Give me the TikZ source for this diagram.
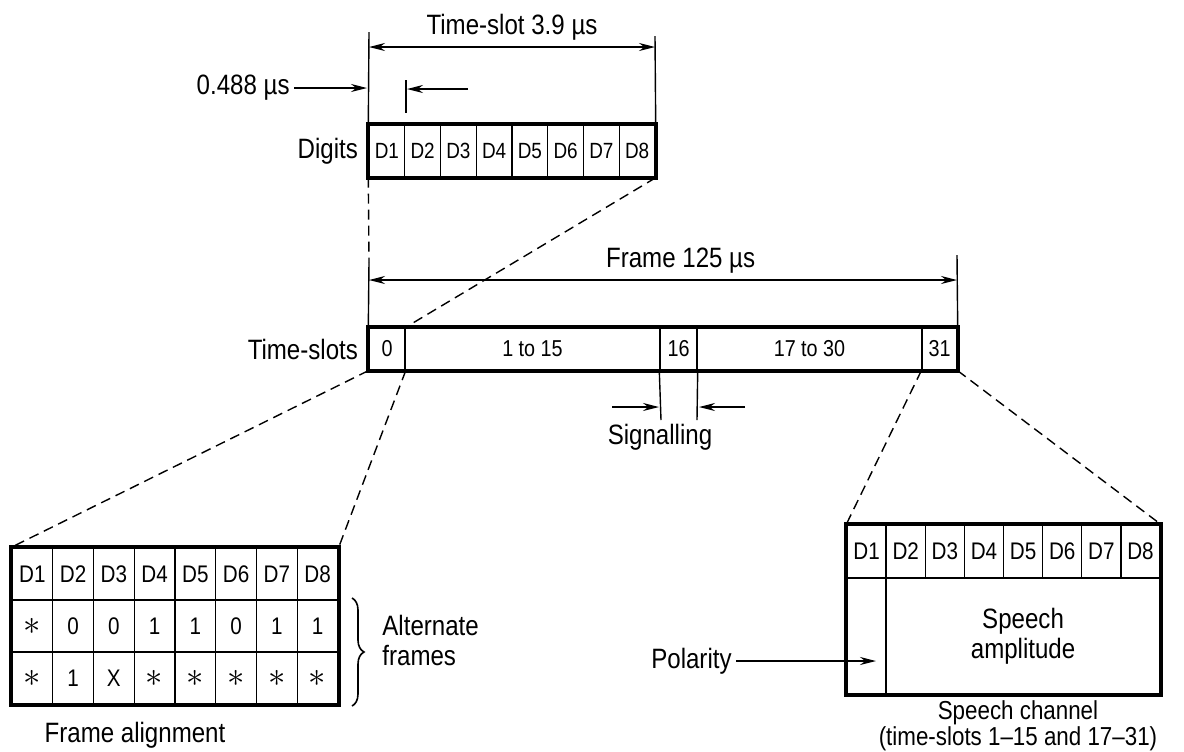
\documentclass[tikz,border=0pt]{standalone}
\usepackage{fontspec}
\setmainfont{Liberation Sans}[FakeStretch=0.86]
\usetikzlibrary{arrows.meta, positioning, decorations.pathreplacing}
\newcommand{\fstar}{{\fontsize{17}{17}\selectfont$\ast$}}

\begin{document}
\begin{tikzpicture}[
  x=0.5pt, y=-0.5pt,
  digit/.style={rectangle, draw=black, line width=0.7pt, inner sep=0pt, minimum width=17.875pt, minimum height=26pt, font=\fontsize{11}{13}\selectfont},
  slot/.style={rectangle, draw=black, line width=0.7pt, inner sep=0pt, minimum width=#1, minimum height=21pt, font=\fontsize{11.5}{13}\selectfont},
  fcell/.style={digit, minimum width=20.375pt, font=\fontsize{12}{14}\selectfont},
  scell/.style={digit, minimum width=19.5625pt, minimum height=26.5pt, font=\fontsize{12}{14}\selectfont},
  body/.style={rectangle, draw=black, line width=0.7pt, inner sep=0pt, minimum width=#1, minimum height=58pt, align=center, font=\fontsize{14}{15}\selectfont},
  outline/.style={line width=2pt},
  lbl/.style={font=\fontsize{14}{15}\selectfont, inner sep=2pt},
  dim/.style={line width=0.7pt},
  arr/.style={-{Stealth[length=8pt, width=4pt]}, line width=0.7pt},
  darr/.style={{Stealth[length=8pt, width=4pt]}-{Stealth[length=8pt, width=4pt]}, line width=0.7pt},
  zoomline/.style={dash pattern=on 5pt off 3pt, line width=0.7pt},
  brace/.style={decorate, decoration={brace, amplitude=6pt}, line width=0.8pt}
]
\useasboundingbox (0,0) rectangle (1184,751);

% Digits of one time-slot
\foreach \i in {1,...,8}
  \node[digit] (t\i) at ({369+35.75*(\i-0.5)},151) {D\i};
\draw[outline] (t1.north west) rectangle (t8.south east);
\node[lbl, left=3pt of t1] (digits) {Digits};

% Time-slot width
\coordinate (tsL) at (369,32);
\coordinate (tsR) at (655,36);
\coordinate (tsa) at (369,47);
\coordinate (tsb) at (655,47);
\draw[dim] (t1.north west) -- (tsL);
\draw[dim] (t8.north east) -- (tsR);
\draw[darr] (tsa) -- node[lbl, above=1pt] (tslbl) {Time-slot 3.9 µs} (tsb);

% Digit width
\node[lbl, anchor=east] (bitlbl) at (294,88) {0.488 µs};
\coordinate (bitL) at (367,88);
\coordinate (tkT) at (406,80);
\coordinate (tkB) at (406,113);
\coordinate (bitR) at (468,89);
\coordinate (bitE) at (407,89);
\draw[arr] (bitlbl.east) -- (bitL);
\draw[dim] (tkT) -- (tkB);
\draw[arr] (bitR) -- (bitE);

% Time-slots of one frame
\node[slot=18pt] (ts0) at (387,349) {0};
\node[slot=127.5pt] (ts1) at (532.5,349) {1 to 15};
\node[slot=18.5pt] (ts16) at (678.5,349) {16};
\node[slot=112.5pt] (ts17) at (809.5,349) {17 to 30};
\node[slot=17.5pt] (ts31) at (939.5,349) {31};
\draw[outline] (ts0.north west) rectangle (ts31.south east);
\node[lbl, left=3pt of ts0] (slots) {Time-slots};

% Frame width
\coordinate (frL) at (369,262);
\coordinate (frR) at (957,255);
\coordinate (fra) at (369,280);
\coordinate (frb) at (957,280);
\draw[zoomline] (t1.south west) -- (frL);
\draw[zoomline] (t8.south east) -- (ts0.north east);
\draw[dim] (frL) -- (ts0.north west);
\draw[dim] (ts31.north east) -- (frR);
\draw[darr] (fra) -- node[lbl, above=1pt, pos=0.53] (frlbl) {Frame 125 µs} (frb);

% Signalling slot
\coordinate (sgL) at (661,420);
\coordinate (sgR) at (697,420);
\coordinate (sga) at (612,407);
\coordinate (sgae) at (659,407);
\coordinate (sgb) at (745,407);
\coordinate (sgbe) at (699,407);
\draw[dim] (ts16.south west) -- (sgL);
\draw[dim] (ts16.south east) -- (sgR);
\draw[arr] (sga) -- (sgae);
\draw[arr] (sgb) -- (sgbe);
\node[lbl] (sig) at (660,437) {Signalling};

% Frame alignment word
\foreach \v [count=\i] in {D1,D2,D3,D4,D5,D6,D7,D8}
  \node[fcell] (fa\i) at ({12+40.75*(\i-0.5)},574) {\v};
\foreach \v [count=\i] in {\fstar,0,0,1,1,0,1,1}
  \node[fcell] (fb\i) at ({12+40.75*(\i-0.5)},626) {\v};
\foreach \v [count=\i] in {\fstar,1,X,\fstar,\fstar,\fstar,\fstar,\fstar}
  \node[fcell] (fc\i) at ({12+40.75*(\i-0.5)},678) {\v};
\draw[outline] (fa1.north west) rectangle (fc8.south east);
\node[lbl] (falbl) at (135,735) {Frame alignment};

\coordinate (brT) at (352,598);
\coordinate (brB) at (352,706);
\draw[brace] (brT) -- (brB);
\node[lbl, align=left, anchor=west] (alt) at (378,640) {Alternate\\frames};

% Speech channel
\foreach \i in {1,...,8}
  \node[scell] (sp\i) at ({847+39.125*(\i-0.5)},551.5) {D\i};
\node[body=19.5625pt] (pbit) at (866.5625,636) {};
\node[body=136.9375pt] (amp) at (1023.0625,636) {Speech\\amplitude};
\draw[outline] (sp1.north west) rectangle (amp.south east);
\node[lbl, align=center, inner sep=0pt, font=\fontsize{13}{11.5}\selectfont] (spch) at (1018,726) {Speech channel\\(time-slots 1--15 and 17--31)};

\node[lbl, anchor=east] (pol) at (736,661) {Polarity};
\coordinate (polT) at (876,661);
\draw[arr] (pol.east) -- (polT);

% Expansion lines
\draw[zoomline] (ts0.south west) -- (fa1.north west);
\draw[zoomline] (ts0.south east) -- (fa8.north east);
\draw[zoomline] (ts31.south west) -- (sp1.north west);
\draw[zoomline] (ts31.south east) -- (sp8.north east);

\end{tikzpicture}
\end{document}
